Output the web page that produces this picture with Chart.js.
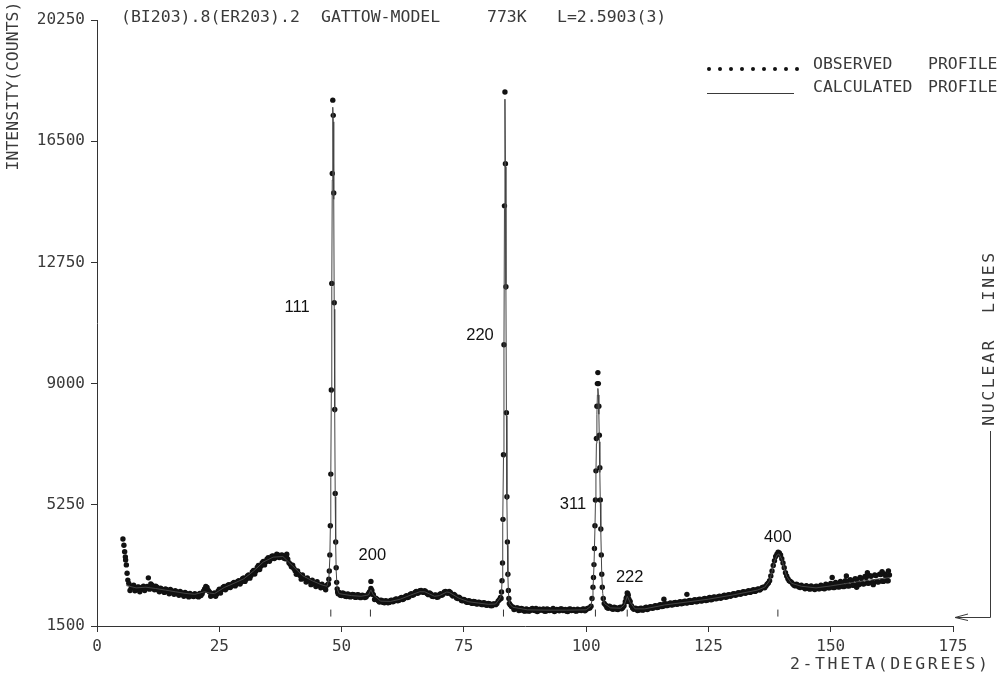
<!DOCTYPE html>
<html>
<head>
<meta charset="utf-8">
<script src="https://cdn.jsdelivr.net/npm/chart.js@4.4.1/dist/chart.umd.min.js"></script>
<style>
  html, body { margin: 0; padding: 0; background: #ffffff; }
  #wrap { width: 1002px; height: 676px; position: relative; }
</style>
</head>
<body>
<div id="wrap"><canvas id="c"></canvas></div>
<script>
// ---------- DATA ----------
const xTickValues = [0, 25, 50, 75, 100, 125, 150, 175];
const yTickValues = [1500, 5250, 9000, 12750, 16500, 20250];

// observed profile: low-angle tail
const obsLowTheta  = [5.3, 5.5, 5.65, 5.8, 5.85, 6.0, 6.15, 6.3];
const obsLowCounts = [4190, 4000, 3800, 3640, 3540, 3390, 3130, 2920];

// observed profile on the 0.5 deg measuring grid, segment by segment
const obsStep = 0.5;
const seg1Start = 6.5;
const seg1Counts = [
  2820, 2680, 2760, 2620, 2710, 2640, 2730, 2670,
  2990, 2800, 2690, 2730, 2610, 2670, 2580, 2650, 2560, 2630,
  2530, 2590, 2500, 2570, 2480, 2540, 2450, 2510, 2430, 2500,
  2420, 2510, 2500, 2650, 2690, 2550, 2450, 2520, 2490, 2640,
  2620, 2720, 2670, 2780, 2740, 2850, 2790, 2900, 2860, 2990,
  2950, 3080, 3060, 3220, 3200, 3370, 3350, 3500, 3480, 3610,
  3570, 3670, 3620, 3700, 3630, 3680, 3580, 3570, 3410, 3380,
  3210, 3200, 3060, 3080, 2970, 2990, 2890, 2920, 2820, 2870,
  2760, 2790, 2680, 2760
];
const seg2Start = 49.5;
const seg2Counts = [
  2540, 2440, 2500, 2410, 2480, 2410, 2470, 2390, 2460, 2380,
  2440, 2400, 2510, 2660, 2470, 2360, 2280, 2300, 2230, 2280,
  2220, 2290, 2250, 2330, 2280, 2360, 2320, 2410, 2380, 2480,
  2450, 2540, 2510, 2590, 2550, 2590, 2500, 2520, 2420, 2450,
  2390, 2470, 2450, 2550, 2530, 2570, 2470, 2480, 2370, 2390,
  2290, 2320, 2240, 2280, 2210, 2260, 2190, 2240, 2170, 2220,
  2150, 2200, 2130, 2180, 2160, 2270, 2380
];
const seg3Start = 84.5;
const seg3Counts = [
  2150, 2090, 2030, 2060, 1990, 2030, 1960, 2010, 1970, 2040,
  1980, 1950, 2020, 1990, 1960, 2030, 1980, 2000, 1950, 2010,
  1970, 2030, 1990, 1960, 2020, 1980, 2010, 1960, 2000, 1980,
  2030, 2000, 2050, 2110
];
const seg4Start = 104.0;
const seg4Counts = [
  2140, 2050, 2090, 2020, 2070, 2010, 2080, 2070, 2250, 2500,
  2260, 2060, 2050, 1980, 2040, 1990, 2060, 2010, 2090, 2050,
  2120, 2070, 2150, 2100, 2180, 2130, 2200, 2150, 2220, 2170,
  2240, 2190, 2260, 2210, 2280, 2230, 2300, 2250, 2320, 2270,
  2340, 2290, 2360, 2310, 2390, 2340, 2410, 2360, 2430, 2390,
  2460, 2420, 2490, 2450, 2520, 2480, 2550, 2510, 2580, 2540,
  2610, 2570, 2640, 2610, 2690, 2680, 2790, 2900, 3200, 3520,
  3720, 3760, 3580, 3300, 3050, 2900, 2850, 2760, 2790, 2710,
  2760, 2690, 2750, 2660, 2740, 2650, 2730, 2650, 2760, 2660,
  2790, 2680, 2820, 2690, 2850, 2710, 2880, 2720, 2900, 2740,
  2930, 2760, 2960, 2790, 3000, 2810, 3030, 2830, 3060, 2850,
  3080, 2870, 3100, 2890, 3110, 2900, 3080
];

// intermediate measuring points (grid offset by 0.25 deg)
const mid1Start = 6.75;
const mid1Counts = [
  2600, 2740, 2590, 2700, 2560, 2690, 2600, 2720, 2640, 2760,
  2620, 2700, 2560, 2640, 2540, 2620, 2500, 2590, 2480, 2560,
  2450, 2530, 2420, 2510, 2400, 2480, 2410, 2470, 2400, 2440,
  2580, 2720, 2600, 2420, 2500, 2420, 2580, 2520, 2690, 2620,
  2760, 2690, 2820, 2740, 2880, 2800, 2960, 2880, 3050, 2980,
  3170, 3110, 3310, 3250, 3450, 3390, 3570, 3500, 3660, 3590,
  3720, 3620, 3700, 3600, 3620, 3460, 3330, 3280, 3100, 3110,
  2950, 2990, 2860, 2900, 2780, 2820, 2720, 2780, 2680, 2720,
  2620
];
const mid2Start = 49.75;
const mid2Counts = [
  2450, 2520, 2420, 2490, 2400, 2480, 2390, 2470, 2380, 2450,
  2380, 2450, 2560, 2500, 2320, 2330, 2240, 2290, 2220, 2270,
  2230, 2300, 2270, 2340, 2300, 2380, 2340, 2440, 2400, 2500,
  2470, 2570, 2530, 2600, 2540, 2560, 2470, 2490, 2410, 2460,
  2400, 2500, 2480, 2570, 2510, 2540, 2430, 2440, 2350, 2360,
  2280, 2300, 2230, 2270, 2200, 2250, 2180, 2230, 2160, 2210,
  2140, 2190, 2130, 2180, 2200, 2310
];
const mid3Start = 84.75;
const mid3Counts = [
  2100, 2010, 2060, 1980, 2040, 1970, 2030, 1960, 2020, 1990,
  2040, 1970, 2000, 2030, 1960, 2010, 1990, 2040, 1970, 2000,
  2030, 1980, 2010, 1950, 2030, 1990, 1970, 2020, 1990, 2020,
  1970, 2040, 2060
];
const mid4Start = 104.25;
const mid4Counts = [
  2070, 2110, 2030, 2080, 2020, 2070, 2030, 2130, 2380, 2330,
  2130, 2020, 2040, 1990, 2050, 2000, 2080, 2030, 2100, 2060,
  2130, 2080, 2160, 2110, 2190, 2140, 2210, 2160, 2230, 2180,
  2250, 2200, 2270, 2220, 2290, 2240, 2310, 2260, 2330, 2280,
  2350, 2300, 2380, 2320, 2400, 2350, 2420, 2380, 2450, 2400,
  2470, 2440, 2500, 2470, 2530, 2500, 2560, 2530, 2590, 2560,
  2620, 2590, 2650, 2650, 2700, 2740, 2830, 3050, 3370, 3650,
  3780, 3700, 3450, 3150, 2960, 2880, 2800, 2740, 2770, 2690,
  2720, 2650, 2720, 2640, 2710, 2630, 2720, 2650, 2730, 2650,
  2760, 2680, 2790, 2690, 2820, 2710, 2850, 2720, 2880, 2740,
  2900, 2760, 2940, 2780, 2970, 2800, 3000, 2820, 3040, 2840,
  3060, 2860, 3090, 2880, 3050, 2900
];

// observed profile: finely stepped points on the Bragg peaks and stray points
const obsPeakTheta = [
  47.3, 47.4, 47.5, 47.6, 47.7, 47.8, 47.9, 48.0, 48.1, 48.2, 48.3, 48.4, 48.5, 48.6, 48.7, 48.8, 48.9, 49.0, 49.1, 49.2, 49.3,
  55.6, 55.8, 56.0, 56.2,
  82.6, 82.7, 82.8, 82.9, 83.0, 83.1, 83.2, 83.3, 83.4, 83.5, 83.6, 83.7, 83.8, 83.9, 84.0, 84.1, 84.2, 84.3,
  101.2, 101.4, 101.5, 101.6, 101.7, 101.8, 101.9, 102.0, 102.1, 102.2, 102.3, 102.4, 102.5, 102.6, 102.7, 102.8, 102.9, 103.0, 103.1, 103.2, 103.3, 103.5, 103.7,
  108.2, 108.4, 108.6, 108.8,
  38.8, 115.9, 120.6, 150.3, 153.2, 155.3, 157.5, 158.7, 160.5, 161.8
];
const obsPeakCounts = [
  2800, 2950, 3200, 3700, 4600, 6200, 8800, 12100, 15500, 17770, 17300, 14900, 11500, 8200, 5600, 4100, 3300, 2850, 2650, 2550, 2500,
  2480, 2550, 2880, 2600,
  2350, 2550, 2900, 3450, 4800, 6800, 10200, 14500, 18020, 15800, 12000, 8100, 5500, 4100, 3100, 2600, 2350, 2200,
  2350, 2700, 3000, 3400, 3900, 4600, 5400, 6300, 7300, 8300, 9000, 9340, 9000, 8300, 7400, 6400, 5400, 4500, 3700, 3100, 2700, 2350, 2200,
  2350, 2520, 2450, 2250,
  3720, 2330, 2480, 3000, 3050, 2700, 3150, 2780, 3180, 3200
];

// calculated profile
const calcTheta = [
  6, 8, 10, 12, 14, 16, 18, 20, 22, 23, 24, 26, 28, 30, 32, 34, 36, 38, 40, 42, 44, 46, 47,
  47.4, 47.6, 47.7, 47.8, 47.9, 48.0, 48.1, 48.2, 48.3, 48.4, 48.5, 48.6, 48.7, 48.8, 48.9, 49.1, 49.5,
  52, 54, 55.5, 56, 56.5, 58, 60, 62, 64, 66, 67, 68, 69, 70, 71.5, 72, 74, 76, 78, 80, 81.5, 82.5,
  82.7, 82.8, 82.9, 83.0, 83.1, 83.2, 83.3, 83.4, 83.5, 83.6, 83.7, 83.8, 83.9, 84.0, 84.1, 84.3, 85,
  88, 92, 96, 100, 101,
  101.2, 101.4, 101.6, 101.8, 101.9, 102.0, 102.1, 102.2, 102.3, 102.4, 102.5, 102.6, 102.7, 102.8, 102.9, 103.0, 103.2, 103.4, 103.7,
  105, 107, 107.8, 108.4, 109, 110, 112, 116, 120, 125, 130, 135, 136.5, 137.5, 138, 138.5, 139, 139.4, 140, 140.5, 141, 142, 144, 147, 150, 155, 162
];
const calcCounts = [
  2750, 2680, 2700, 2660, 2610, 2560, 2510, 2480, 2560, 2520, 2500, 2690, 2820, 2960, 3200, 3480, 3630, 3650, 3360, 3060, 2900, 2770, 2730,
  2950, 3600, 4500, 6100, 8700, 12000, 15300, 17550, 17100, 14700, 11300, 8100, 5500, 4000, 3200, 2650, 2500,
  2440, 2420, 2460, 2620, 2460, 2270, 2260, 2330, 2450, 2560, 2560, 2490, 2420, 2440, 2550, 2540, 2360, 2250, 2210, 2170, 2180, 2380,
  2520, 2870, 3400, 4700, 6700, 10100, 14400, 17800, 15700, 11900, 8000, 5400, 4000, 3050, 2570, 2200, 2080,
  2000, 1990, 1990, 2000, 2120,
  2330, 2650, 3350, 4500, 5300, 6200, 7150, 8050, 8650, 8850, 8650, 8050, 7200, 6250, 5300, 4400, 3050, 2500, 2200,
  2060, 2050, 2150, 2420, 2230, 2030, 2030, 2150, 2230, 2330, 2460, 2610, 2700, 2900, 3180, 3500, 3690, 3730, 3560, 3280, 3030, 2820, 2730, 2680, 2740, 2860, 3000
];

// nuclear line positions (reflection markers) and peak labels
const nuclearTheta = [47.8, 55.9, 83.1, 101.9, 108.4, 139.2];
const nuclearMarkCount = 1900;
const peakLabels = ['111', '200', '220', '311', '222', '400'];
const peakLabelTheta = [40.9, 56.3, 78.3, 97.3, 108.9, 139.2];
const peakLabelCounts = [11370, 3670, 10500, 5270, 2990, 4250];

const titleParts = ['(BI203).8(ER203).2', 'GATTOW-MODEL', '773K', 'L=2.5903(3)'];
const legendLabels = [['OBSERVED', 'PROFILE'], ['CALCULATED', 'PROFILE']];
const yTitle = 'INTENSITY(COUNTS)';
const xTitle = '2-THETA(DEGREES)';
const nuclearTitle = 'NUCLEAR  LINES';

// ---------- BUILD ----------
function seg(start, counts) { return counts.map((c, i) => ({ x: start + i * obsStep, y: c })); }
const observed = []
  .concat(obsLowTheta.map((t, i) => ({ x: t, y: obsLowCounts[i] })))
  .concat(seg(seg1Start, seg1Counts))
  .concat(seg(seg2Start, seg2Counts))
  .concat(seg(seg3Start, seg3Counts))
  .concat(seg(seg4Start, seg4Counts))
  .concat(seg(mid1Start, mid1Counts))
  .concat(seg(mid2Start, mid2Counts))
  .concat(seg(mid3Start, mid3Counts))
  .concat(seg(mid4Start, mid4Counts))
  .concat(obsPeakTheta.map((t, i) => ({ x: t, y: obsPeakCounts[i] })));
const calculated = calcTheta.map((t, i) => ({ x: t, y: calcCounts[i] }));
const nuclear = nuclearTheta.map(t => ({ x: t, y: nuclearMarkCount }));

const MONO = '"DejaVu Sans Mono", "Liberation Mono", monospace';
const INK = '#3a3a3a';

const annotations = {
  id: 'annotations',
  afterDraw(chart) {
    const ctx = chart.ctx;
    const xs = chart.scales.x, ys = chart.scales.y;
    ctx.save();
    ctx.fillStyle = INK;
    ctx.strokeStyle = INK;
    ctx.textBaseline = 'middle';

    // title
    ctx.font = '16.5px ' + MONO;
    ctx.textAlign = 'left';
    const titleX = [121, 321, 487, 557];
    titleParts.forEach((t, i) => ctx.fillText(t, titleX[i], 18));

    // legend
    ctx.fillStyle = '#111';
    for (let i = 0; i < 9; i++) {
      ctx.beginPath();
      ctx.arc(709 + i * 11, 69, 2, 0, Math.PI * 2);
      ctx.fill();
    }
    ctx.fillStyle = INK;
    ctx.lineWidth = 1;
    ctx.beginPath();
    ctx.moveTo(707, 93.5); ctx.lineTo(794, 93.5);
    ctx.stroke();
    ctx.fillText(legendLabels[0][0], 813, 65);
    ctx.fillText(legendLabels[0][1], 928, 65);
    ctx.fillText(legendLabels[1][0], 813, 88);
    ctx.fillText(legendLabels[1][1], 928, 88);

    // y-axis title (rotated)
    ctx.save();
    ctx.translate(14, 86);
    ctx.rotate(-Math.PI / 2);
    ctx.textAlign = 'center';
    ctx.fillText(yTitle, 0, 0);
    ctx.restore();

    // x-axis title
    ctx.save();
    ctx.letterSpacing = '2.6px';
    ctx.textAlign = 'left';
    ctx.fillText(xTitle, 790, 665);
    ctx.restore();

    // nuclear lines annotation
    ctx.save();
    ctx.translate(990, 338);
    ctx.rotate(-Math.PI / 2);
    ctx.letterSpacing = '2.6px';
    ctx.textAlign = 'center';
    ctx.fillText(nuclearTitle, 0, 0);
    ctx.restore();
    ctx.lineWidth = 1;
    ctx.beginPath();
    ctx.moveTo(990.5, 431); ctx.lineTo(990.5, 617.5); ctx.lineTo(955, 617.5);
    ctx.moveTo(955, 617.5); ctx.lineTo(968, 614);
    ctx.moveTo(955, 617.5); ctx.lineTo(968, 620.5);
    ctx.stroke();

    // peak labels
    ctx.font = '16.5px "Liberation Sans", Arial, sans-serif';
    ctx.fillStyle = '#111';
    ctx.textAlign = 'center';
    peakLabels.forEach((t, i) => {
      ctx.fillText(t, xs.getPixelForValue(peakLabelTheta[i]), ys.getPixelForValue(peakLabelCounts[i]));
    });
    ctx.restore();
  }
};

new Chart(document.getElementById('c'), {
  type: 'scatter',
  data: {
    datasets: [
      {
        label: 'CALCULATED PROFILE',
        data: calculated,
        showLine: true,
        borderColor: '#444',
        borderWidth: 1,
        pointRadius: 0,
        tension: 0,
        order: 1
      },
      {
        label: 'OBSERVED PROFILE',
        data: observed,
        showLine: false,
        pointRadius: 2.7,
        pointBorderWidth: 0,
        pointBackgroundColor: '#111',
        pointBorderColor: '#111',
        order: 2
      },
      {
        label: 'NUCLEAR LINES',
        data: nuclear,
        showLine: false,
        pointStyle: 'line',
        rotation: 90,
        pointRadius: 3.5,
        pointBorderWidth: 1,
        pointBorderColor: '#333',
        order: 0
      }
    ]
  },
  options: {
    responsive: true,
    maintainAspectRatio: false,
    animation: false,
    devicePixelRatio: 1,
    layout: { padding: { left: 0, top: 20, right: 49, bottom: 0 } },
    plugins: { legend: { display: false }, tooltip: { enabled: false } },
    scales: {
      x: {
        type: 'linear',
        min: 0, max: 175,
        afterBuildTicks: s => { s.ticks = xTickValues.map(v => ({ value: v })); },
        afterFit: s => { s.height = 50; },
        ticks: { color: INK, font: { family: MONO, size: 16 }, padding: 5, maxRotation: 0, autoSkip: false, callback: v => String(v) },
        grid: { drawOnChartArea: false, drawTicks: true, tickLength: 6, color: '#333', lineWidth: 1 },
        border: { display: true, color: '#333', width: 1 }
      },
      y: {
        type: 'linear',
        min: 1500, max: 20250,
        afterBuildTicks: s => { s.ticks = yTickValues.map(v => ({ value: v })); },
        afterFit: s => { s.width = 97; },
        ticks: { color: INK, font: { family: MONO, size: 16 }, padding: 6, autoSkip: false, callback: v => String(v) },
        grid: { drawOnChartArea: false, drawTicks: true, tickLength: 6, color: '#333', lineWidth: 1 },
        border: { display: true, color: '#333', width: 1 }
      }
    }
  },
  plugins: [annotations]
});
</script>
</body>
</html>
